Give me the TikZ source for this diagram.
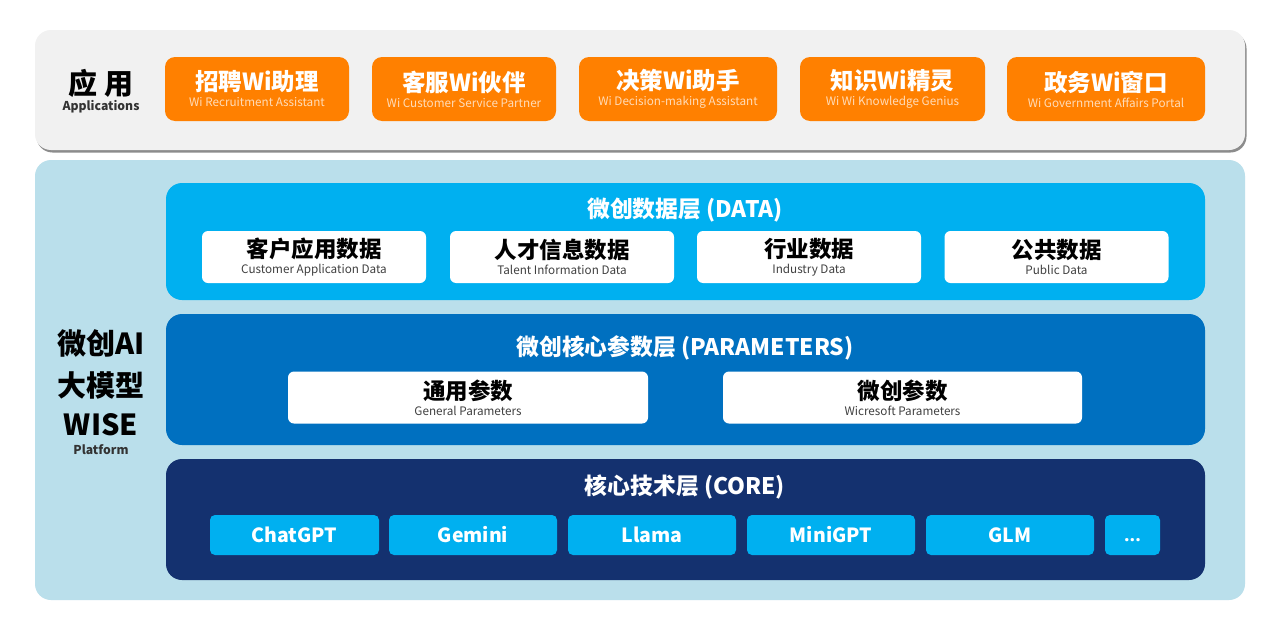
\documentclass[tikz,border=0pt]{standalone}
\usepackage{fontspec}
\setmainfont{Noto Sans CJK SC}
\newfontfamily\dotfont{Open Sans}
\usepackage{xcolor}
\usetikzlibrary{shadows}
\definecolor{appPanel}{HTML}{F1F1F1}
\definecolor{appOrange}{HTML}{FF8000}
\definecolor{platformBlue}{HTML}{BADFEB}
\definecolor{dataBlue}{HTML}{00B0F0}
\definecolor{paramBlue}{HTML}{0070C0}
\definecolor{coreBlue}{HTML}{14316F}
\newcommand{\apptitle}[1]{{\fontsize{23.5}{25}\selectfont\bfseries #1}}
\newcommand{\appsub}[1]{{\fontsize{11.7}{12}\selectfont\color{white!72!appOrange} #1}}
\newcommand{\boxtitle}[1]{{\fontsize{22.5}{25}\selectfont\bfseries #1}}
\newcommand{\boxsub}[1]{{\fontsize{11.7}{12}\selectfont\color{black!75} #1}}
\newcommand{\sidetitle}[1]{{\fontsize{29}{30}\selectfont\bfseries #1}}
\newcommand{\sidesub}[1]{{\fontsize{12.2}{15}\selectfont\bfseries\color{black!80} #1}}
\tikzset{
	panel/.style={rounded corners=16pt,minimum width=#1,inner sep=0pt,anchor=center},
	layer/.style={rounded corners=16pt,minimum width=1039pt,inner sep=0pt},
	appbox/.style={fill=appOrange,rounded corners=10pt,minimum width=#1,minimum height=64pt,inner sep=0pt,text=white,align=center},
	databox/.style={fill=white,rounded corners=6pt,minimum width=#1,minimum height=52pt,inner sep=0pt,text=black,align=center},
	chipbox/.style={fill=dataBlue,rounded corners=5pt,minimum width=#1,minimum height=40pt,inner sep=0pt,text=white,font=\fontsize{19.5}{24}\selectfont\bfseries},
	layertitle/.style={text=white,inner sep=0pt,font=\fontsize{22.8}{25}\selectfont\bfseries},
}
\begin{document}
\begin{tikzpicture}[x=1pt,y=-1pt]
	\useasboundingbox (0,0) rectangle (1280,629);
	\fill[white] (0,0) rectangle (1280,629);

	\node[panel=1210pt,minimum height=120pt,fill=appPanel,drop shadow={shadow xshift=1.5pt,shadow yshift=-2.5pt,fill=black!45,opacity=1}] (appPanel) at (640,90) {};
	\node[inner sep=0pt,align=center,text=black] (appLabel) at (101,91.5) {\sidetitle{应 用}\\[2pt]\sidesub{Applications}};
	\node[appbox=184pt] (appRecruit) at (257,89) {\apptitle{招聘Wi助理}\\[4pt]\appsub{Wi Recruitment Assistant}};
	\node[appbox=184pt] (appService) at (464,89) {\apptitle{客服Wi伙伴}\\[4pt]\appsub{Wi Customer Service Partner}};
	\node[appbox=198pt] (appDecision) at (678,89) {\apptitle{决策Wi助手}\\[4pt]\appsub{Wi Decision-making Assistant}};
	\node[appbox=185pt] (appKnowledge) at (892.5,89) {\apptitle{知识Wi精灵}\\[4pt]\appsub{Wi Wi Knowledge Genius}};
	\node[appbox=198pt] (appGov) at (1106,89) {\apptitle{政务Wi窗口}\\[4pt]\appsub{Wi Government Affairs Portal}};

	\node[panel=1210pt,minimum height=440pt,fill=platformBlue] (platform) at (640,380) {};
	\node[inner sep=0pt,align=center,text=black] (platformLabel) at (101,392) {\sidetitle{微创AI}\\[13.5pt]\sidetitle{大模型}\\[13.5pt]\sidetitle{WISE}\\[7pt]\sidesub{Platform}};

	\node[layer,minimum height=117pt,fill=dataBlue] (dataLayer) at (685.5,241.5) {};
	\node[layertitle] (dataTitle) at (685,210) {微创数据层 (DATA)};
	\node[databox=224pt] (dataCustomer) at (314,257) {\boxtitle{客户应用数据}\\[4pt]\boxsub{Customer Application Data}};
	\node[databox=224pt] (dataTalent) at (562,257) {\boxtitle{人才信息数据}\\[4pt]\boxsub{Talent Information Data}};
	\node[databox=224pt] (dataIndustry) at (809,257) {\boxtitle{行业数据}\\[4pt]\boxsub{Industry Data}};
	\node[databox=224pt] (dataPublic) at (1056.5,257) {\boxtitle{公共数据}\\[4pt]\boxsub{Public Data}};

	\node[layer,minimum height=131pt,fill=paramBlue] (paramLayer) at (685.5,379.5) {};
	\node[layertitle] (paramTitle) at (685,348) {微创核心参数层 (PARAMETERS)};
	\node[databox=360pt] (paramGeneral) at (468,397.5) {\boxtitle{通用参数}\\[4pt]\boxsub{General Parameters}};
	\node[databox=359pt] (paramWicresoft) at (902.5,397.5) {\boxtitle{微创参数}\\[4pt]\boxsub{Wicresoft Parameters}};

	\node[layer,minimum height=121pt,fill=coreBlue] (coreLayer) at (685.5,519.5) {};
	\node[layertitle] (coreTitle) at (685,487) {核心技术层 (CORE)};
	\node[chipbox=169pt] (coreChatgpt) at (294.5,535) {ChatGPT};
	\node[chipbox=168pt] (coreGemini) at (473,535) {Gemini};
	\node[chipbox=168pt] (coreLlama) at (652,535) {Llama};
	\node[chipbox=168pt] (coreMinigpt) at (831,535) {MiniGPT};
	\node[chipbox=168pt] (coreGlm) at (1010,535) {GLM};
	\node[chipbox=55pt] (coreMore) at (1132.5,535) {\dotfont\bfseries\vphantom{G}...};
\end{tikzpicture}
\end{document}
